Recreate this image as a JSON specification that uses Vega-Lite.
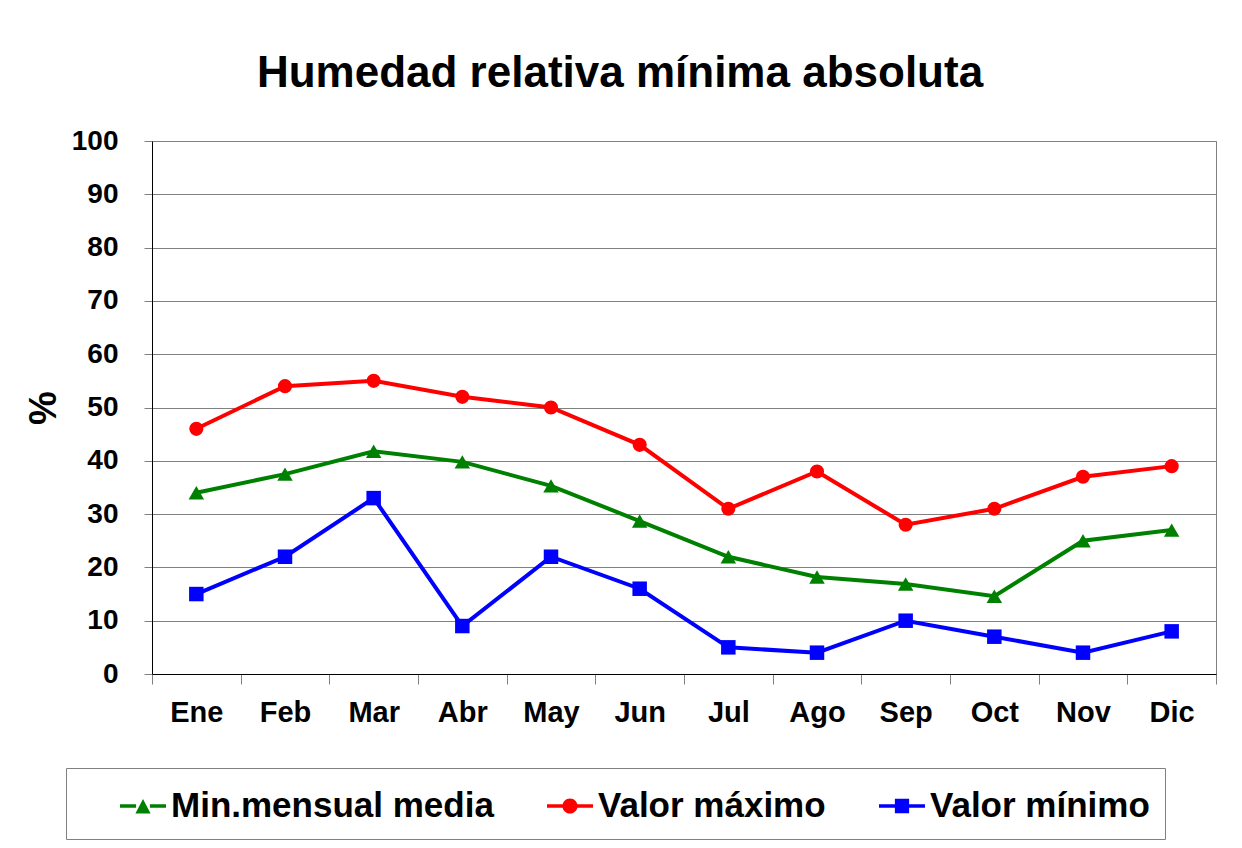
{
  "$schema": "https://vega.github.io/schema/vega-lite/v6.json",
  "width": 1064,
  "height": 533,
  "autosize": {"type": "none"},
  "padding": {"left": 152, "top": 141, "right": 26, "bottom": 174},
  "background": "white",
  "title": {
    "text": "Humedad relativa mínima absoluta",
    "font": "Liberation Sans",
    "fontSize": 44,
    "fontWeight": "bold",
    "color": "black",
    "anchor": "middle",
    "frame": "group",
    "baseline": "alphabetic",
    "dx": -64,
    "offset": -4
  },
  "data": {
    "values": [
      {"mes": "Ene", "serie": "Min.mensual media", "valor": 34},
      {"mes": "Feb", "serie": "Min.mensual media", "valor": 37.5},
      {"mes": "Mar", "serie": "Min.mensual media", "valor": 41.8},
      {"mes": "Abr", "serie": "Min.mensual media", "valor": 39.8},
      {"mes": "May", "serie": "Min.mensual media", "valor": 35.3},
      {"mes": "Jun", "serie": "Min.mensual media", "valor": 28.7},
      {"mes": "Jul", "serie": "Min.mensual media", "valor": 22},
      {"mes": "Ago", "serie": "Min.mensual media", "valor": 18.2},
      {"mes": "Sep", "serie": "Min.mensual media", "valor": 16.9},
      {"mes": "Oct", "serie": "Min.mensual media", "valor": 14.6},
      {"mes": "Nov", "serie": "Min.mensual media", "valor": 25},
      {"mes": "Dic", "serie": "Min.mensual media", "valor": 27},
      {"mes": "Ene", "serie": "Valor máximo", "valor": 46},
      {"mes": "Feb", "serie": "Valor máximo", "valor": 54},
      {"mes": "Mar", "serie": "Valor máximo", "valor": 55},
      {"mes": "Abr", "serie": "Valor máximo", "valor": 52},
      {"mes": "May", "serie": "Valor máximo", "valor": 50},
      {"mes": "Jun", "serie": "Valor máximo", "valor": 43},
      {"mes": "Jul", "serie": "Valor máximo", "valor": 31},
      {"mes": "Ago", "serie": "Valor máximo", "valor": 38},
      {"mes": "Sep", "serie": "Valor máximo", "valor": 28},
      {"mes": "Oct", "serie": "Valor máximo", "valor": 31},
      {"mes": "Nov", "serie": "Valor máximo", "valor": 37},
      {"mes": "Dic", "serie": "Valor máximo", "valor": 39},
      {"mes": "Ene", "serie": "Valor mínimo", "valor": 15},
      {"mes": "Feb", "serie": "Valor mínimo", "valor": 22},
      {"mes": "Mar", "serie": "Valor mínimo", "valor": 33},
      {"mes": "Abr", "serie": "Valor mínimo", "valor": 9},
      {"mes": "May", "serie": "Valor mínimo", "valor": 22},
      {"mes": "Jun", "serie": "Valor mínimo", "valor": 16},
      {"mes": "Jul", "serie": "Valor mínimo", "valor": 5},
      {"mes": "Ago", "serie": "Valor mínimo", "valor": 4},
      {"mes": "Sep", "serie": "Valor mínimo", "valor": 10},
      {"mes": "Oct", "serie": "Valor mínimo", "valor": 7},
      {"mes": "Nov", "serie": "Valor mínimo", "valor": 4},
      {"mes": "Dic", "serie": "Valor mínimo", "valor": 8}
    ]
  },
  "encoding": {
    "x": {
      "field": "mes",
      "type": "ordinal",
      "sort": ["Ene", "Feb", "Mar", "Abr", "May", "Jun", "Jul", "Ago", "Sep", "Oct", "Nov", "Dic"],
      "scale": {"type": "band", "paddingInner": 0, "paddingOuter": 0},
      "axis": {
        "title": null,
        "grid": false,
        "labelAngle": 0,
        "labelFont": "Liberation Sans",
        "labelFontSize": 29,
        "labelFontWeight": "bold",
        "labelColor": "black",
        "labelPadding": 14,
        "tickBand": "extent",
        "tickSize": 10,
        "tickColor": "#808080",
        "domainColor": "black",
        "domainWidth": 1
      }
    },
    "y": {
      "field": "valor",
      "type": "quantitative",
      "scale": {"domain": [0, 100], "nice": false},
      "axis": {
        "title": "%",
        "titleFont": "Liberation Sans",
        "titleFontSize": 38,
        "titleFontWeight": "bold",
        "titleColor": "black",
        "titlePadding": 8,
        "values": [0, 10, 20, 30, 40, 50, 60, 70, 80, 90, 100],
        "labelFont": "Liberation Sans",
        "labelFontSize": 28,
        "labelFontWeight": "bold",
        "labelColor": "black",
        "labelPadding": 26,
        "tickSize": 8,
        "tickColor": "#808080",
        "gridColor": "#808080",
        "gridWidth": 1,
        "domainColor": "black",
        "domainWidth": 1
      }
    },
    "color": {
      "field": "serie",
      "type": "nominal",
      "scale": {"domain": ["Min.mensual media", "Valor máximo", "Valor mínimo"], "range": ["#008000", "#FF0000", "#0000FF"]},
      "legend": {
        "title": " ",
        "orient": "none",
        "legendX": -86,
        "legendY": 627,
        "direction": "horizontal",
        "columns": 3,
        "symbolOpacity": 1,
        "labelExpr": "indexof(datum.label, 'nimo') > 0 ? datum.label + '\u00a0\u00a0\u00a0\u00a0' : datum.label"
      }
    }
  },
  "layer": [
    {
      "mark": {"type": "point", "filled": true, "opacity": 0},
      "encoding": {
        "shape": {
          "field": "serie",
          "type": "nominal",
          "scale": {
            "domain": ["Min.mensual media", "Valor máximo", "Valor mínimo"],
            "range": [
              "M-1,-0.08H-0.3V0.08H-1Z M0.3,-0.08H1V0.08H0.3Z M0,-0.3L0.33,0.33H-0.33Z",
              "M-1,-0.08H-0.3V0.08H-1Z M0.3,-0.08H1V0.08H0.3Z M0.33,0A0.33,0.33,0,1,1,-0.33,0A0.33,0.33,0,1,1,0.33,0Z",
              "M-1,-0.08H-0.3V0.08H-1Z M0.3,-0.08H1V0.08H0.3Z M-0.31,-0.31H0.31V0.31H-0.31Z"
            ]
          },
          "legend": {
            "title": " ",
            "orient": "none",
            "legendX": -86,
            "legendY": 627,
            "direction": "horizontal",
            "columns": 3,
            "symbolOpacity": 1,
            "labelExpr": "indexof(datum.label, 'nimo') > 0 ? datum.label + '\u00a0\u00a0\u00a0\u00a0' : datum.label"
          }
        }
      }
    },
    {
      "mark": {"type": "line", "strokeWidth": 4}
    },
    {
      "transform": [{"filter": "datum.serie == 'Min.mensual media'"}],
      "mark": {"type": "point", "shape": "triangle-up", "filled": true, "color": "#008000", "size": 240, "opacity": 1}
    },
    {
      "transform": [{"filter": "datum.serie == 'Valor máximo'"}],
      "mark": {"type": "point", "shape": "circle", "filled": true, "color": "#FF0000", "size": 200, "opacity": 1}
    },
    {
      "transform": [{"filter": "datum.serie == 'Valor mínimo'"}],
      "mark": {"type": "point", "shape": "square", "filled": true, "color": "#0000FF", "size": 210, "opacity": 1}
    }
  ],
  "config": {
    "view": {"stroke": "#808080", "strokeWidth": 1},
    "legend": {
      "columnPadding": 53,
      "padding": 15,
      "strokeColor": "#808080",
      "fillColor": "white",
      "titleOrient": "left",
      "titleFontSize": 1,
      "titlePadding": 39,
      "labelFont": "Liberation Sans",
      "labelFontSize": 35,
      "labelFontWeight": "bold",
      "labelColor": "black",
      "labelLimit": 500,
      "labelOffset": 5,
      "symbolSize": 2116,
      "symbolStrokeWidth": 0
    }
  }
}
